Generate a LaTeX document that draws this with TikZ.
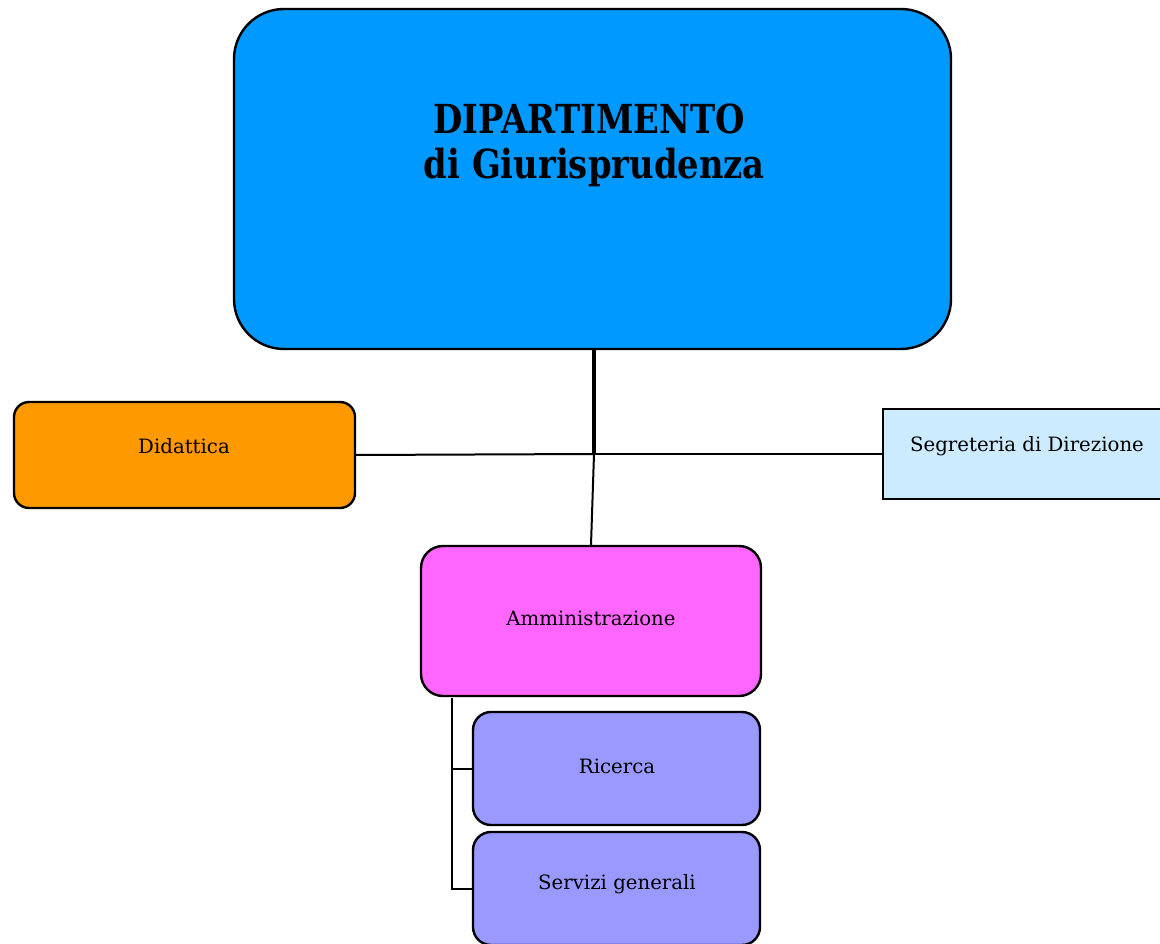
\documentclass[tikz,border=0pt]{standalone}
\usepackage{fontspec}
\setmainfont{DejaVu Serif}
\definecolor{mainblue}{HTML}{0099FF}
\definecolor{didorange}{HTML}{FF9900}
\definecolor{segblue}{HTML}{CCEBFF}
\definecolor{ammpink}{HTML}{FF66FF}
\definecolor{subviolet}{HTML}{9999FF}
\tikzset{
  box/.style={draw=black, line width=1.8pt, inner sep=0pt},
  boxtext/.style={font=\fontsize{14.8}{17}\selectfont, text=black},
  thickconn/.style={draw=black, line width=3pt},
  thinconn/.style={draw=black, line width=1.5pt},
}
\begin{document}
\begin{tikzpicture}[x=0.75pt, y=-0.75pt]
\useasboundingbox (0,0) rectangle (1160,944);
% boxes
\node[box, fill=mainblue, rounded corners=37.5pt, minimum width=537.75pt, minimum height=255pt] (dip) at (592.5,179) {};
\node[font=\bfseries\fontsize{30}{34}\selectfont, align=center] (diptext) at (589,145) {\scalebox{0.845}[1]{DIPARTIMENTO}\\ \hspace*{8pt}\scalebox{0.845}[1]{di Giurisprudenza}};
\node[box, fill=didorange, rounded corners=11.25pt, minimum width=255.75pt, minimum height=79.5pt] (did) at (184.5,455) {};
\node[boxtext] (didtext) at (184,446) {Didattica};
\node[box, fill=segblue, minimum width=217.5pt, minimum height=67.5pt] (seg) at (1028,454) {};
\node[boxtext] (segtext) at (1027,446) {Segreteria di Direzione};
\node[box, fill=ammpink, rounded corners=16.5pt, minimum width=255pt, minimum height=112.5pt] (amm) at (591,621) {};
\node[boxtext] (ammtext) at (591,618) {Amministrazione};
\node[box, fill=subviolet, rounded corners=13.5pt, minimum width=215.25pt, minimum height=84.75pt] (ric) at (616.5,768.5) {};
\node[boxtext] (rictext) at (617,766) {Ricerca};
\node[box, fill=subviolet, rounded corners=13.5pt, minimum width=215.25pt, minimum height=84.75pt] (ser) at (616.5,888.5) {};
\node[boxtext] (sertext) at (617,884) {Servizi generali};
% connectors
\coordinate (hub) at (594,454);
\coordinate (ammhub) at (452,698);
\draw[thinconn] (did.east) -- (hub);
\draw[thinconn] (hub) -- (seg.west);
\draw[thinconn] (hub) -- (amm.north);
\draw[thickconn] (dip.south -| hub) -- (hub);
\draw[thinconn] (ammhub) -- (ammhub |- ser.west) -- (ser.west);
\draw[thinconn] (ammhub |- ric.west) -- (ric.west);
\end{tikzpicture}
\end{document}
